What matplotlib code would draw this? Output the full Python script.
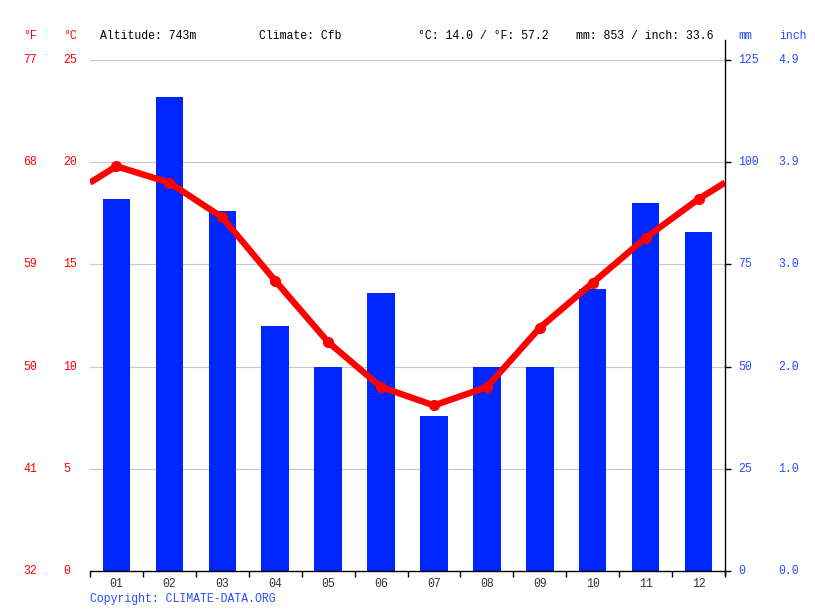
import matplotlib
matplotlib.use("Agg")
import matplotlib.pyplot as plt
import matplotlib.transforms as mtransforms
import numpy as np

months = ["01", "02", "03", "04", "05", "06", "07", "08", "09", "10", "11", "12"]
temp_c = [19.8, 19.0, 17.3, 14.2, 11.2, 9.0, 8.1, 9.0, 11.9, 14.1, 16.3, 18.2]
precip_mm = [91, 116, 88, 60, 50, 68, 38, 50, 50, 69, 90, 83]
c_ticks = [0, 5, 10, 15, 20, 25]
mm_ticks = [0, 25, 50, 75, 100, 125]
header_altitude = "Altitude: 743m"
header_climate = "Climate: Cfb"
header_temp = "°C: 14.0 / °F: 57.2"
header_precip = "mm: 853 / inch: 33.6"
copyright_text = "Copyright: CLIMATE-DATA.ORG"

RED = "#ff0000"
BAR_BLUE = "#0026ff"
LBL_BLUE = "#2a4bff"
FONT = "Liberation Mono"
FS = 8.3

plt.rcParams['font.family'] = [FONT, 'DejaVu Sans Mono']

W, H = 815, 611
fig = plt.figure(figsize=(W / 100, H / 100), dpi=100)
x0, x1, y0, y1 = 90, 725, 60, 571
ax2 = fig.add_axes([x0 / W, 1 - y1 / H, (x1 - x0) / W, (y1 - y0) / H])
ax = ax2.twinx()

x = np.arange(1, 13)

# bars
ax2.bar(x, precip_mm, width=0.52, color=BAR_BLUE, zorder=2)
ax2.set_xlim(0.5, 12.5)
ax2.set_ylim(0, 125)
for c in c_ticks[1:]:
    ax2.axhline(c * 5, color="#c8c8c8", lw=0.9, zorder=1)

# temperature line with wrap-around edges
edge = (temp_c[-1] + temp_c[0]) / 2
lx = np.concatenate([[0.5], x, [12.5]])
ly = np.concatenate([[edge], temp_c, [edge]])
ax.plot(lx, ly, color=RED, lw=4.6, solid_capstyle="butt", zorder=3)
ax.plot(x, temp_c, "o", color=RED, ms=7, zorder=4)
ax.set_ylim(0, 25)
ax.set_xlim(0.5, 12.5)

for a in (ax, ax2):
    for s in a.spines.values():
        s.set_visible(False)
    a.set_yticks([])
ax.set_xticks([])

ax2.spines["bottom"].set_visible(True)
ax2.spines["bottom"].set_color("black")
ax2.spines["bottom"].set_linewidth(1.0)
ax2.set_xticks(np.arange(0.5, 13, 1))
ax2.set_xticklabels([])
ax2.tick_params(axis="x", direction="out", length=4, width=1, color="black")
ax2.set_xticks(x, minor=True)
ax2.set_xticklabels(months, minor=True)
ax2.tick_params(axis="x", which="minor", length=0, pad=5, labelsize=FS, labelcolor="#333333")

# right axis line extending above the plot
ax2.plot([1, 1], [-0.008, 1.04], transform=ax2.transAxes, color="black", lw=1.0, clip_on=False, zorder=5)
# right ticks
ax2.set_yticks(mm_ticks)
ax2.set_yticklabels([])
ax2.yaxis.tick_right()
ax2.tick_params(axis="y", direction="out", length=4, width=1, color="black")

# left labels
tl = mtransforms.blended_transform_factory(fig.transFigure, ax.transData)
for c in c_ticks:
    f = round(32 + c * 9 / 5)
    ax.text(63 / W, c, f"{c}", transform=tl, color=RED, fontsize=FS, ha="left", va="center")
    ax.text(23 / W, c, f"{f}", transform=tl, color=RED, fontsize=FS, ha="left", va="center")

tr = mtransforms.blended_transform_factory(fig.transFigure, ax2.transData)
for m in mm_ticks:
    ax2.text(738 / W, m, f"{m}", transform=tr, color=LBL_BLUE, fontsize=FS, ha="left", va="center")
    ax2.text(778 / W, m, f"{m / 25.4:.1f}", transform=tr, color=LBL_BLUE, fontsize=FS, ha="left", va="center")

hy = 1 - 36 / H
fig.text(23 / W, hy, "°F", color=RED, fontsize=FS, ha="left", va="center")
fig.text(63 / W, hy, "°C", color=RED, fontsize=FS, ha="left", va="center")
fig.text(100 / W, hy, header_altitude, color="black", fontsize=FS, ha="left", va="center")
fig.text(259 / W, hy, header_climate, color="black", fontsize=FS, ha="left", va="center")
fig.text(418 / W, hy, header_temp, color="black", fontsize=FS, ha="left", va="center")
fig.text(576 / W, hy, header_precip, color="black", fontsize=FS, ha="left", va="center")
fig.text(738 / W, hy, "mm", color=LBL_BLUE, fontsize=FS, ha="left", va="center")
fig.text(779 / W, hy, "inch", color=LBL_BLUE, fontsize=FS, ha="left", va="center")
fig.text(90 / W, 1 - 599 / H, copyright_text, color=LBL_BLUE, fontsize=FS, ha="left", va="center")

fig.savefig("out.png", dpi=100)
